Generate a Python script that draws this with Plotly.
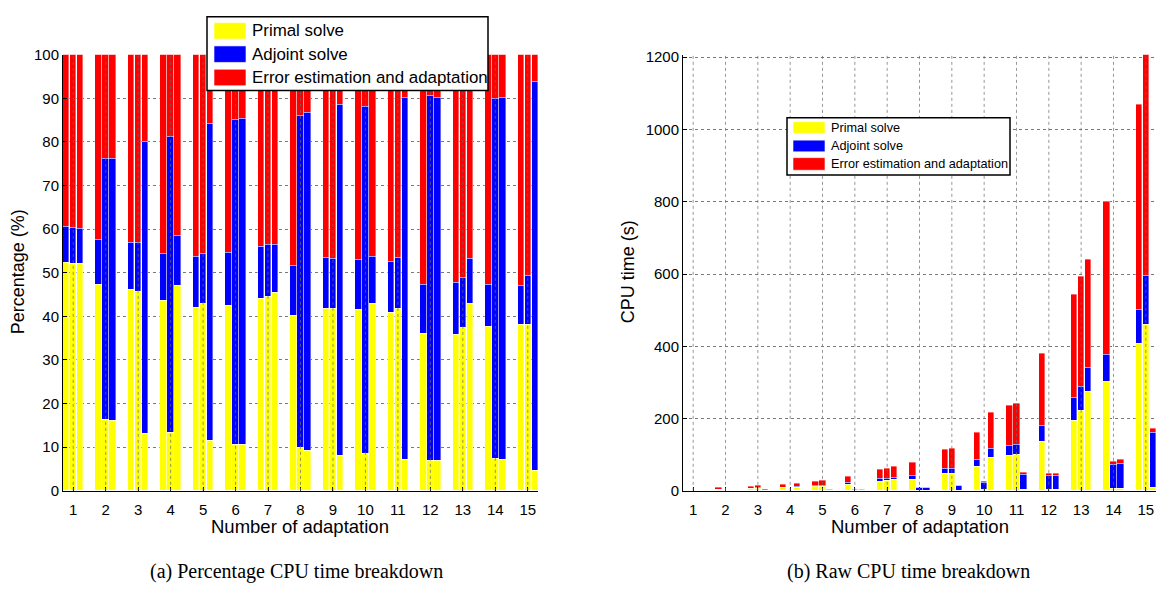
import plotly.graph_objects as go

# ---------------------------------------------------------------
# CPU time breakdown per mesh adaptation, three runs (a, b, c)
# ---------------------------------------------------------------
adapt = list(range(1, 16))
tick_labels = [str(k) for k in adapt]

# share of CPU time (%) per run
pct_primal_a = [52.4, 47.2, 46.1, 43.6, 42.1, 42.4, 44.0, 40.2, 41.8, 41.5, 40.9, 36.1, 35.8, 37.7, 38.1]
pct_adjoint_a = [8.1, 10.4, 10.7, 10.8, 11.7, 12.1, 11.9, 11.4, 11.6, 11.5, 11.6, 11.2, 11.9, 9.6, 9.0]
pct_error_a = [39.5, 42.4, 43.2, 45.6, 46.2, 45.5, 44.1, 48.4, 46.6, 47.0, 47.5, 52.7, 52.3, 52.7, 52.9]

pct_primal_b = [52.2, 16.3, 45.6, 13.4, 42.9, 10.5, 44.5, 10.0, 41.7, 8.6, 41.8, 6.9, 37.3, 7.4, 38.2]
pct_adjoint_b = [8.2, 59.8, 11.4, 67.9, 11.5, 74.7, 11.9, 76.1, 11.6, 79.4, 11.7, 83.6, 11.5, 82.5, 11.2]
pct_error_b = [39.6, 23.9, 43.0, 18.7, 45.6, 14.8, 43.6, 13.9, 46.7, 12.0, 46.5, 9.5, 51.2, 10.1, 50.6]

pct_primal_c = [52.0, 16.2, 13.2, 47.0, 11.4, 10.5, 45.5, 9.3, 8.0, 43.0, 7.1, 7.0, 42.9, 7.1, 4.7]
pct_adjoint_c = [8.2, 59.9, 66.8, 11.5, 72.8, 74.8, 11.0, 77.5, 80.6, 10.8, 83.0, 83.1, 10.4, 83.1, 89.0]
pct_error_c = [39.8, 23.9, 20.0, 41.5, 15.8, 14.7, 43.5, 13.2, 11.4, 46.2, 9.9, 9.9, 46.7, 9.8, 6.3]

# raw CPU time (s) per run
raw_primal_a = [0.6, 3.8, 5.5, 7.8, 11.0, 17.0, 25.5, 31.8, 48.0, 66.8, 96.5, 136.8, 194.0, 301.0, 406.0]
raw_adjoint_a = [0.1, 0.8, 1.3, 2.0, 3.0, 4.8, 6.9, 9.0, 13.3, 18.5, 27.4, 42.4, 64.0, 76.0, 96.0]
raw_error_a = [0.5, 3.4, 5.2, 8.2, 12.0, 18.2, 25.6, 38.2, 53.6, 75.7, 112.0, 199.8, 285.0, 422.0, 566.0]

raw_primal_b = [0.6, 0.25, 6.4, 0.2, 12.0, 0.3, 27.6, 0.9, 48.8, 2.2, 100.3, 3.3, 220.8, 5.9, 461.0]
raw_adjoint_b = [0.1, 0.9, 1.6, 1.0, 3.2, 2.2, 7.4, 6.9, 13.6, 19.8, 28.1, 40.1, 68.0, 66.0, 135.0]
raw_error_b = [0.5, 0.35, 6.0, 0.3, 12.8, 0.5, 27.0, 1.2, 54.6, 3.0, 111.6, 4.6, 303.2, 8.1, 611.0]

raw_primal_c = [0.6, 0.25, 0.3, 9.4, 0.35, 0.3, 30.5, 0.9, 1.2, 92.5, 3.6, 3.4, 274.0, 6.0, 8.0]
raw_adjoint_c = [0.1, 0.9, 1.3, 2.3, 2.2, 2.3, 7.4, 7.8, 12.1, 23.2, 41.5, 39.9, 68.0, 70.6, 153.0]
raw_error_c = [0.5, 0.35, 0.4, 8.3, 0.45, 0.45, 29.1, 1.3, 1.7, 99.3, 4.9, 4.7, 298.0, 8.4, 11.0]

series_names = ["Primal solve", "Adjoint solve", "Error estimation and adaptation"]
series_colors = ["#ffff00", "#0000ff", "#ff0000"]

# ---------------------------------------------------------------
W, H = 1158, 596
SANS = "Liberation Sans, Arial, Helvetica, sans-serif"
SERIF = "Liberation Serif, Times New Roman, serif"

def fx(px):
    return px / W

def fy(py):
    return 1 - py / H

run_shift = [-0.215, 0.0, 0.215]
bar_w = 0.2
edge = dict(color="rgba(255,255,255,0.55)", width=0.7)

fig = go.Figure()

pct_runs = [
    (pct_primal_a, pct_adjoint_a, pct_error_a),
    (pct_primal_b, pct_adjoint_b, pct_error_b),
    (pct_primal_c, pct_adjoint_c, pct_error_c),
]
raw_runs = [
    (raw_primal_a, raw_adjoint_a, raw_error_a),
    (raw_primal_b, raw_adjoint_b, raw_error_b),
    (raw_primal_c, raw_adjoint_c, raw_error_c),
]

for runs, xa, ya in [(pct_runs, "x", "y"), (raw_runs, "x2", "y2")]:
    for shift, parts in zip(run_shift, runs):
        xs = [k + shift for k in adapt]
        for vals, name, col in zip(parts, series_names, series_colors):
            fig.add_trace(go.Bar(
                x=xs, y=vals, width=bar_w, name=name,
                marker=dict(color=col, line=edge),
                xaxis=xa, yaxis=ya, showlegend=False,
            ))

x_rng = [1 + run_shift[0] - bar_w / 2, 15 + run_shift[2] + bar_w / 2]
ydom = [fy(496), fy(47)]
grid = dict(showgrid=True, gridcolor="#7a7a7a", griddash="dot", gridwidth=0.8)
common_x = dict(range=x_rng, tickmode="array", tickvals=adapt, ticktext=tick_labels,
                showgrid=False, showline=True, linecolor="black", linewidth=1,
                ticks="inside", ticklen=4, tickcolor="black", ticklabelstandoff=5,
                tickfont=dict(family=SANS, size=15, color="black"), zeroline=False)
common_y = dict(showline=True, linecolor="black", linewidth=1, ticks="inside",
                ticklen=4, tickcolor="black",
                tickfont=dict(family=SANS, size=15, color="black"), zeroline=False, **grid)

fig.update_layout(
    width=W, height=H, margin=dict(l=0, r=0, t=0, b=0),
    paper_bgcolor="white", plot_bgcolor="white",
    barmode="stack", bargap=0, showlegend=False,
    xaxis=dict(domain=[fx(63), fx(538)], anchor="y", **common_x),
    yaxis=dict(domain=ydom, anchor="x", range=[0, 100], tickvals=list(range(0, 101, 10)), **common_y),
    xaxis2=dict(domain=[fx(683), fx(1156)], anchor="y2", **common_x),
    yaxis2=dict(domain=ydom, anchor="x2", range=[0, 1207], tickvals=list(range(0, 1201, 200)), **common_y),
)

shapes = []
# vertical dotted grid drawn over the bars
for xr, yr in [("x", "y domain"), ("x2", "y2 domain")]:
    for k in adapt:
        shapes.append(dict(type="line", xref=xr, yref=yr, x0=k, x1=k, y0=0, y1=1,
                           line=dict(color="#6a6a6a", width=0.7, dash="dot"), layer="above"))

annotations = []

def legend_box(x0, y0, x1, y1, sw_x0, sw_x1, rows, text_x, fsize):
    shapes.append(dict(type="rect", xref="paper", yref="paper",
                       x0=fx(x0), x1=fx(x1), y0=fy(y1), y1=fy(y0),
                       fillcolor="white", line=dict(color="black", width=1.5), layer="above"))
    for (r0, r1), name, col in zip(rows, series_names, series_colors):
        shapes.append(dict(type="rect", xref="paper", yref="paper",
                           x0=fx(sw_x0), x1=fx(sw_x1), y0=fy(r1), y1=fy(r0),
                           fillcolor=col, line=dict(color="rgba(255,255,255,0.6)", width=1),
                           layer="above"))
        annotations.append(dict(xref="paper", yref="paper", x=fx(text_x), y=fy((r0 + r1) / 2),
                                text=name, showarrow=False, xanchor="left", yanchor="middle",
                                font=dict(family=SANS, size=fsize, color="black")))

legend_box(207, 8, 488, 84, 214, 246, [(14, 31), (38, 55), (62, 79)], 250, 16.9)
legend_box(787, 112, 1010, 171, 793, 825, [(116, 128), (135, 147), (153, 166)], 829, 12.7)

def label(text, xp, yp, size, angle=0, family=SANS):
    annotations.append(dict(xref="paper", yref="paper", x=fx(xp), y=fy(yp), text=text,
                            showarrow=False, xanchor="center", yanchor="middle", textangle=angle,
                            font=dict(family=family, size=size, color="black")))

label("Percentage (%)", 18, 271, 18, -90)
label("Number of adaptation", 300, 533, 18.5)
label("CPU time (s)", 628, 271, 18, -90)
label("Number of adaptation", 920, 533, 18.5)
label("(a) Percentage CPU time breakdown", 296, 579, 20, family=SERIF)
label("(b) Raw CPU time breakdown", 908, 579, 20, family=SERIF)

fig.update_layout(shapes=shapes, annotations=annotations)
fig.write_html("out.html")
